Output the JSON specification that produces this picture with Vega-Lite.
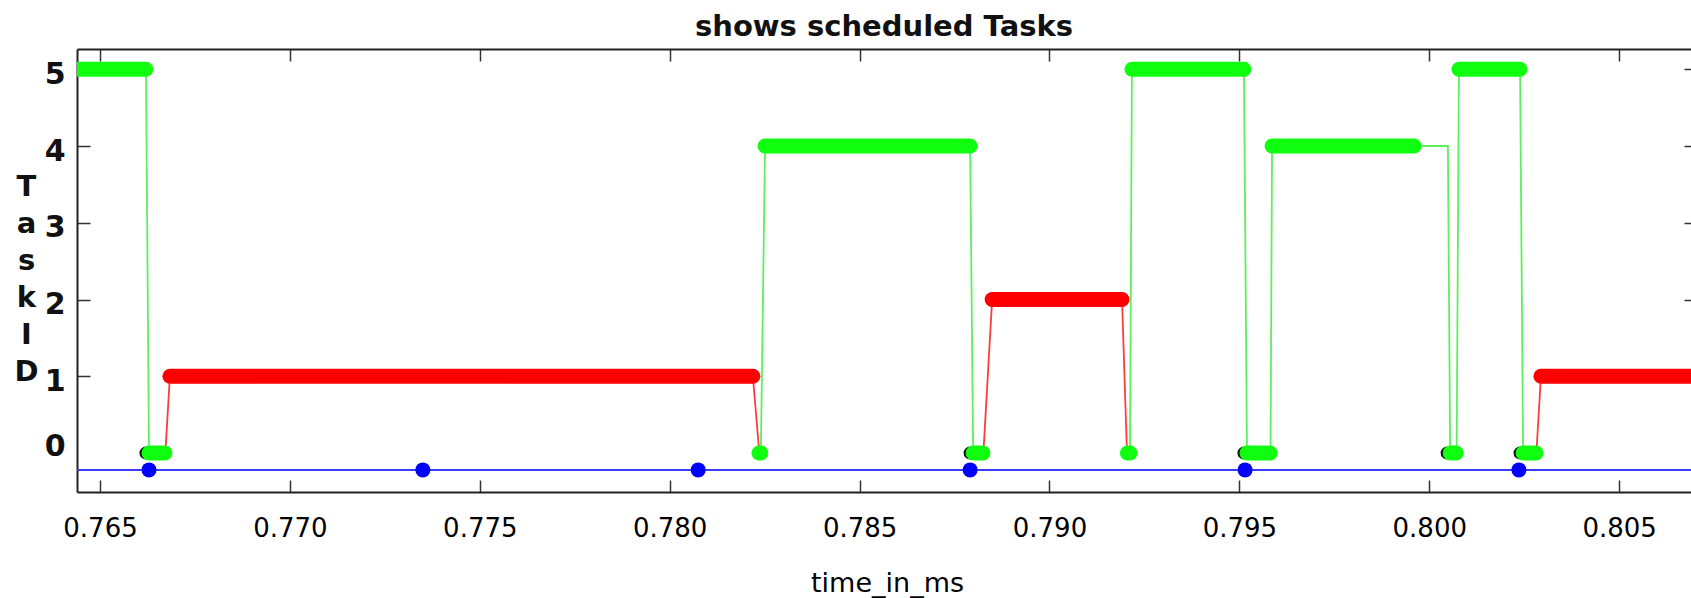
{
  "$schema": "https://vega.github.io/schema/vega-lite/v6.json",
  "width": 1614,
  "height": 443,
  "autosize": {"type": "none"},
  "padding": {"left": 77, "top": 49, "right": 0, "bottom": 106},
  "background": "white",
  "title": {"text": "shows scheduled Tasks", "font": "DejaVu Sans", "fontSize": 29, "fontWeight": "bold", "color": "#111", "offset": 6, "anchor": "middle"},
  "config": {"view": {"stroke": null}, "axis": {"grid": false}},
  "data": {"values": [
    {"t": 0.75906, "id": -0.22, "s": "b", "seg": "b"},
    {"t": 0.76629, "id": -0.22, "s": "b", "seg": "b", "dot": 1},
    {"t": 0.77350, "id": -0.22, "s": "b", "seg": "b", "dot": 1},
    {"t": 0.78075, "id": -0.22, "s": "b", "seg": "b", "dot": 1},
    {"t": 0.78791, "id": -0.22, "s": "b", "seg": "b", "dot": 1},
    {"t": 0.79515, "id": -0.22, "s": "b", "seg": "b", "dot": 1},
    {"t": 0.80236, "id": -0.22, "s": "b", "seg": "b", "dot": 1},
    {"t": 0.80959, "id": -0.22, "s": "b", "seg": "b"},

    {"t": 0.76621, "id": 0, "s": "k", "seg": "k"},
    {"t": 0.78791, "id": 0, "s": "k", "seg": "k"},
    {"t": 0.79512, "id": 0, "s": "k", "seg": "k"},
    {"t": 0.80047, "id": 0, "s": "k", "seg": "k"},
    {"t": 0.80239, "id": 0, "s": "k", "seg": "k"},

    {"t": 0.76439, "id": 5, "s": "g", "seg": "g1", "band": "g1p"},
    {"t": 0.76621, "id": 5, "s": "g", "seg": "g1", "band": "g1p"},
    {"t": 0.76629, "id": 0, "s": "g", "seg": "g1", "band": "g1z"},
    {"t": 0.76671, "id": 0, "s": "g", "seg": "g1", "band": "g1z"},

    {"t": 0.76672, "id": 0, "s": "r", "seg": "r1"},
    {"t": 0.76684, "id": 1, "s": "r", "seg": "r1", "band": "r1p"},
    {"t": 0.78219, "id": 1, "s": "r", "seg": "r1", "band": "r1p"},
    {"t": 0.78236, "id": 0, "s": "r", "seg": "r1"},

    {"t": 0.78235, "id": 0, "s": "g", "seg": "g2", "band": "g2a"},
    {"t": 0.78240, "id": 0, "s": "g", "seg": "g2", "band": "g2a"},
    {"t": 0.78251, "id": 4, "s": "g", "seg": "g2", "band": "g2p"},
    {"t": 0.78791, "id": 4, "s": "g", "seg": "g2", "band": "g2p"},
    {"t": 0.78799, "id": 0, "s": "g", "seg": "g2", "band": "g2z"},
    {"t": 0.78825, "id": 0, "s": "g", "seg": "g2", "band": "g2z"},

    {"t": 0.78826, "id": 0, "s": "r", "seg": "r2"},
    {"t": 0.78849, "id": 2, "s": "r", "seg": "r2", "band": "r2p"},
    {"t": 0.79191, "id": 2, "s": "r", "seg": "r2", "band": "r2p"},
    {"t": 0.79204, "id": 0, "s": "r", "seg": "r2"},

    {"t": 0.79205, "id": 0, "s": "g", "seg": "g3", "band": "g3a"},
    {"t": 0.79212, "id": 0, "s": "g", "seg": "g3", "band": "g3a"},
    {"t": 0.79217, "id": 5, "s": "g", "seg": "g3", "band": "g3p"},
    {"t": 0.79512, "id": 5, "s": "g", "seg": "g3", "band": "g3p"},
    {"t": 0.79520, "id": 0, "s": "g", "seg": "g3", "band": "g3z"},
    {"t": 0.79581, "id": 0, "s": "g", "seg": "g3", "band": "g3z"},

    {"t": 0.79582, "id": 0, "s": "g", "seg": "g4"},
    {"t": 0.79586, "id": 4, "s": "g", "seg": "g4", "band": "g4p"},
    {"t": 0.79960, "id": 4, "s": "g", "seg": "g4", "band": "g4p"},
    {"t": 0.80049, "id": 4, "s": "g", "seg": "g4"},
    {"t": 0.80055, "id": 0, "s": "g", "seg": "g4", "band": "g4z"},
    {"t": 0.80071, "id": 0, "s": "g", "seg": "g4", "band": "g4z"},

    {"t": 0.80072, "id": 0, "s": "g", "seg": "g5"},
    {"t": 0.80078, "id": 5, "s": "g", "seg": "g5", "band": "g5p"},
    {"t": 0.80239, "id": 5, "s": "g", "seg": "g5", "band": "g5p"},
    {"t": 0.80247, "id": 0, "s": "g", "seg": "g5", "band": "g5z"},
    {"t": 0.80281, "id": 0, "s": "g", "seg": "g5", "band": "g5z"},

    {"t": 0.80282, "id": 0, "s": "r", "seg": "r3"},
    {"t": 0.80294, "id": 1, "s": "r", "seg": "r3", "band": "r3p"},
    {"t": 0.80750, "id": 1, "s": "r", "seg": "r3", "band": "r3p"}
  ]},
  "encoding": {
    "x": {"field": "t", "type": "quantitative", "scale": {"domain": [0.764394, 0.806891], "nice": false, "zero": false}, "axis": null},
    "y": {"field": "id", "type": "quantitative", "scale": {"domain": [-0.508, 5.264], "nice": false, "zero": false}, "axis": null}
  },
  "layer": [
    {
      "transform": [{"filter": "datum.s === 'g' || datum.s === 'r'"}],
      "mark": {"type": "line", "strokeWidth": 1.8, "clip": true},
      "encoding": {
        "detail": {"field": "seg"},
        "stroke": {"condition": {"test": "datum.s === 'g'", "value": "#5cf05c"}, "value": "#ff3b3b"},
        "x": {"field": "t", "type": "quantitative", "scale": {"domain": [0.764394, 0.806891], "nice": false, "zero": false},
          "axis": {"orient": "bottom", "values": [0.765, 0.77, 0.775, 0.78, 0.785, 0.79, 0.795, 0.8, 0.805], "format": ".3f",
            "tickSize": -12, "tickWidth": 1.5, "tickColor": "#333", "domain": true, "domainColor": "#222", "domainWidth": 2,
            "labelFont": "DejaVu Sans", "labelFontSize": 26, "labelColor": "#000", "labelPadding": 56, "labelBaseline": "alphabetic", "labelFlush": false,
            "title": "time_in_ms", "titleFont": "DejaVu Sans", "titleFontSize": 27, "titleFontWeight": "normal", "titleColor": "#000",
            "titleX": 810, "titleY": 99, "titleBaseline": "alphabetic", "titleAlign": "center"}},
        "y": {"field": "id", "type": "quantitative", "scale": {"domain": [-0.508, 5.264], "nice": false, "zero": false},
          "axis": {"orient": "left", "values": [0, 1, 2, 3, 4, 5], "format": "d",
            "tickSize": -13, "tickWidth": 1.5, "tickColor": "#333",
            "tickOpacity": {"condition": {"test": "datum.value === 0", "value": 0}, "value": 1},
            "labelOffset": {"condition": {"test": "datum.value === 0", "value": -7}, "value": 5},
            "domain": true, "domainColor": "#222", "domainWidth": 2,
            "labelFont": "DejaVu Sans", "labelFontSize": 30, "labelFontWeight": "bold", "labelColor": "#111", "labelPadding": 25,
            "title": ["T", "a", "s", "k", "I", "D"], "titleAngle": 0, "titleX": -51, "titleY": 146, "titleAlign": "center", "titleBaseline": "alphabetic",
            "titleLineHeight": 37, "titleFont": "DejaVu Sans", "titleFontSize": 29, "titleFontWeight": "bold", "titleColor": "#111"}}
      }
    },
    {
      "transform": [{"filter": "datum.s === 'k'"}],
      "mark": {"type": "point", "filled": true, "opacity": 1, "size": 170, "color": "#111", "clip": true}
    },
    {
      "transform": [{"filter": "datum.band != null"}],
      "mark": {"type": "line", "strokeWidth": 15, "strokeCap": "round", "clip": true},
      "encoding": {
        "detail": {"field": "band"},
        "stroke": {"condition": {"test": "datum.s === 'g'", "value": "#10ff10"}, "value": "#ff0000"}
      }
    },
    {
      "transform": [{"filter": "datum.s === 'b'"}],
      "mark": {"type": "line", "strokeWidth": 2, "color": "#3a3aff", "clip": true},
      "encoding": {"detail": {"field": "seg"}}
    },
    {
      "transform": [{"filter": "datum.s === 'b' && datum.dot === 1"}],
      "mark": {"type": "point", "filled": true, "opacity": 1, "size": 225, "color": "#0000ff", "clip": true},
      "encoding": {
        "x": {"field": "t", "type": "quantitative", "scale": {"domain": [0.764394, 0.806891], "nice": false, "zero": false},
          "axis": {"orient": "top", "values": [0.765, 0.77, 0.775, 0.78, 0.785, 0.79, 0.795, 0.8, 0.805], "labels": false,
            "tickSize": -12, "tickWidth": 1.5, "tickColor": "#333", "domain": true, "domainColor": "#222", "domainWidth": 2, "title": null}},
        "y": {"field": "id", "type": "quantitative", "scale": {"domain": [-0.508, 5.264], "nice": false, "zero": false},
          "axis": {"orient": "right", "values": [1, 2, 3, 4, 5], "labels": false, "tickSize": -7, "tickWidth": 1.5, "tickColor": "#333", "domain": false, "title": null}}
      }
    }
  ],
  "resolve": {"axis": {"x": "independent", "y": "independent"}}
}
